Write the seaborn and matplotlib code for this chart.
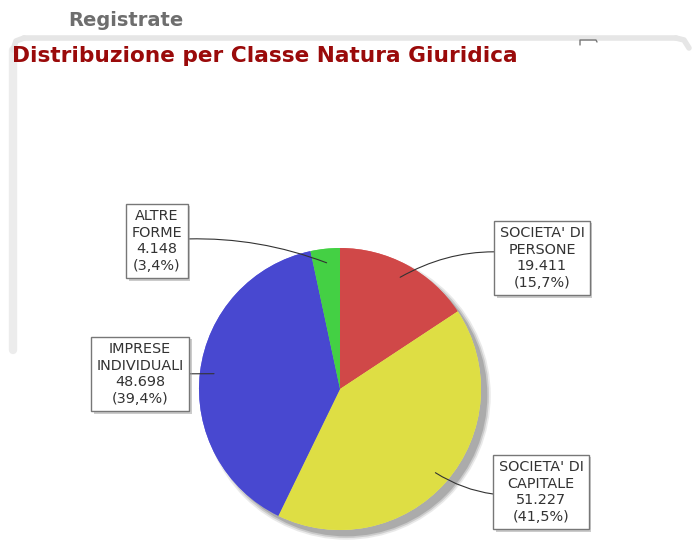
import numpy as np
import matplotlib
matplotlib.use("Agg")
import matplotlib.pyplot as plt
import matplotlib.patheffects as pe
from matplotlib.patches import Circle
import seaborn as sns

# Data
categories = ["SOCIETA' DI\nPERSONE", "SOCIETA' DI\nCAPITALE", "IMPRESE\nINDIVIDUALI", "ALTRE\nFORME"]
values = [19411, 51227, 48698, 4148]
colors = ["#d04848", "#dede44", "#4848d0", "#44d044"]
rim_colors = ["#e46a6a", "#eeee70", "#6a6af0", "#6ae46a"]
# label box centres (pixels from top-left) and connector curvature
label_pos = [(542, 258), (541, 492), (140, 374), (157, 241)]
label_rad = [0.2, -0.2, 0.0, -0.12]

sns.set_theme(style="white")
plt.rcParams["font.family"] = ["DejaVu Sans"]

W, H = 693, 542
fig = plt.figure(figsize=(W / 100, H / 100), dpi=100)
fig.patch.set_facecolor("white")

# background panel decoration
bg = fig.add_axes([0, 0, 1, 1], zorder=0)
bg.set_xlim(0, W)
bg.set_ylim(H, 0)
bg.axis("off")
bg.plot([24, 676], [38, 38], color="#e6e6e6", lw=4, solid_capstyle="round")
bg.plot([676, 684, 689], [38, 40, 48], color="#e6e6e6", lw=4, solid_capstyle="round")
bg.plot([13, 13], [50, 350], color="#ececec", lw=6)
bg.plot([13, 16, 24], [50, 41, 38], color="#e6e6e6", lw=4, solid_capstyle="round")
bg.plot([580, 580, 596, 597], [45, 40, 40, 42], color="#777777", lw=1)

fig.text(68 / W, 1 - 21 / H, "Registrate", fontsize=14, fontweight="bold",
         color="#6e6e6e", ha="left", va="center")
fig.text(12 / W, 1 - 56 / H, "Distribuzione per Classe Natura Giuridica",
         fontsize=15.6, fontweight="bold", color="#9a0a0a", ha="left", va="center")

# pie axes (a little margin around the unit circle for the shadow)
cx, cy, r = 340, 389, 141
m = 1.12
ax = fig.add_axes([(cx - r * m) / W, (H - cy - r * m) / H, 2 * r * m / W, 2 * r * m / H], zorder=1)
ax.axis("off")

# drop shadow
for k, a in enumerate([0.25, 0.45, 0.9]):
    ax.add_patch(Circle((0.045, -0.045), 1.0 + 0.012 * (2 - k), color="#a8a8a8",
                        alpha=a, zorder=0, lw=0))

# lighter rim underneath, showing on the upper-left edge
ax.pie(values, colors=rim_colors, startangle=90, counterclock=False, radius=1.0,
       wedgeprops=dict(lw=0, zorder=1))
wedges, _ = ax.pie(values, colors=colors, startangle=90, counterclock=False, radius=1.0,
                   wedgeprops=dict(lw=0, zorder=2))
clip = Circle((0.032, -0.032), 0.998, transform=ax.transData)
for w in wedges:
    w.set_clip_path(clip)
ax.set_xlim(-m, m)
ax.set_ylim(-m, m)
ax.set_aspect("equal")

total = sum(values)
cum = 0.0
for w, cat, v, (lx, ly), rad in zip(wedges, categories, values, label_pos, label_rad):
    pct = 100.0 * v / total
    mid = np.deg2rad(90 - 360.0 * (cum + v / 2) / total)
    cum += v
    px, py = 0.9 * np.cos(mid), 0.9 * np.sin(mid)
    num = f"{v:,}".replace(",", ".")
    pct_s = f"({pct:.1f}%)".replace(".", ",")
    txt = f"{cat}\n{num}\n{pct_s}"
    t = ax.annotate(
        txt, xy=(px, py), xycoords="data",
        xytext=(lx, H - ly), textcoords="figure pixels",
        ha="center", va="center", fontsize=10.4, color="#333333", linespacing=1.25,
        bbox=dict(boxstyle="square,pad=0.36", fc="white", ec="#777777", lw=1),
        arrowprops=dict(arrowstyle="-", color="#333333", lw=0.8,
                        connectionstyle=f"arc3,rad={rad}", shrinkA=0, shrinkB=0),
        annotation_clip=False, zorder=5,
    )
    t.get_bbox_patch().set_path_effects([
        pe.SimplePatchShadow(offset=(2, -2), shadow_rgbFace="#999999", alpha=0.5),
        pe.Normal(),
    ])

fig.savefig("out.png", dpi=100, facecolor="white")
